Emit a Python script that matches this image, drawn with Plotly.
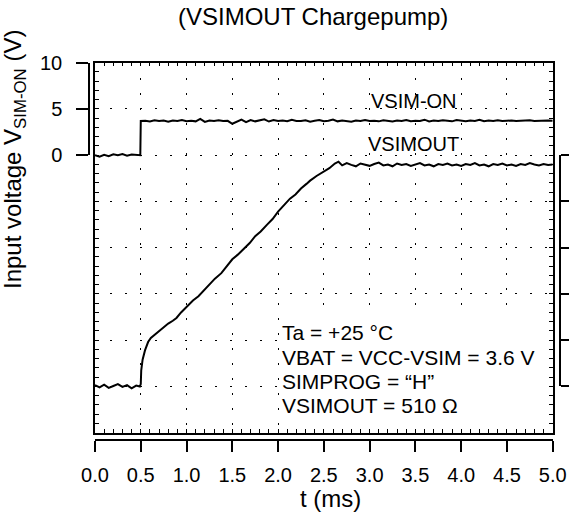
import plotly.graph_objects as go

W, H = 569, 514
FONT = "Arial, 'Liberation Sans', sans-serif"

# ---------------- data ----------------
t_on = [0.00, 0.05, 0.10, 0.15, 0.20, 0.25, 0.30, 0.35, 0.40, 0.45, 0.495, 0.50,
        0.55, 0.60, 0.65, 0.70, 0.75, 0.80, 0.85, 0.90, 0.95, 1.00,
        1.05, 1.10, 1.15, 1.20, 1.25, 1.30, 1.35, 1.40, 1.45, 1.50,
        1.55, 1.60, 1.65, 1.70, 1.75, 1.80, 1.85, 1.90, 1.95, 2.00,
        2.05, 2.10, 2.15, 2.20, 2.25, 2.30, 2.35, 2.40, 2.45, 2.50,
        2.55, 2.60, 2.65, 2.70, 2.75, 2.80, 2.85, 2.90, 2.95, 3.00,
        3.05, 3.10, 3.15, 3.20, 3.25, 3.30, 3.35, 3.40, 3.45, 3.50,
        3.55, 3.60, 3.65, 3.70, 3.75, 3.80, 3.85, 3.90, 3.95, 4.00,
        4.05, 4.10, 4.15, 4.20, 4.25, 4.30, 4.35, 4.40, 4.45, 4.50,
        4.55, 4.60, 4.65, 4.70, 4.75, 4.80, 4.85, 4.90, 4.95, 5.00]
v_on = [0.00, -0.15, 0.05, -0.10, 0.10, 0.00, 0.12, -0.05, 0.08, 0.02, 0.00, 3.70,
        3.72, 3.65, 3.78, 3.70, 3.74, 3.62, 3.76, 3.71, 3.80, 3.68,
        3.73, 3.66, 3.92, 3.60, 3.75, 3.70, 3.78, 3.69, 3.72, 3.40,
        3.62, 3.85, 3.58, 3.80, 3.66, 3.75, 3.88, 3.64, 3.79, 3.70,
        3.74, 3.67, 3.82, 3.71, 3.69, 3.77, 3.62, 3.73, 3.80, 3.68,
        3.72, 3.86, 3.66, 3.74, 3.70, 3.63, 3.76, 3.71, 3.81, 3.69,
        3.73, 3.66, 3.78, 3.72, 3.64, 3.75, 3.70, 3.79, 3.67, 3.73,
        3.71, 3.84, 3.65, 3.74, 3.69, 3.77, 3.71, 3.66, 3.80, 3.72,
        3.68, 3.75, 3.70, 3.83, 3.67, 3.74, 3.71, 3.78, 3.69, 3.72,
        3.76, 3.70, 3.73, 3.68, 3.77, 3.71, 3.74, 3.70, 3.75, 3.72]

t_out = [0.00, 0.05, 0.10, 0.15, 0.20, 0.25, 0.30, 0.35, 0.40, 0.45, 0.49,
         0.50, 0.505, 0.52, 0.546, 0.58, 0.61, 0.64, 0.68, 0.71, 0.75, 0.80,
         0.85, 0.89, 0.94, 1.00, 1.07, 1.13, 1.19, 1.25, 1.31, 1.38, 1.44,
         1.50, 1.56, 1.63, 1.69, 1.75, 1.81, 1.88, 1.94, 2.00, 2.06, 2.13,
         2.19, 2.25, 2.31, 2.35, 2.42, 2.50, 2.56, 2.62, 2.66,
         2.70, 2.75, 2.80, 2.85, 2.90, 2.95, 3.00, 3.05, 3.10, 3.15, 3.20,
         3.25, 3.30, 3.35, 3.40, 3.45, 3.50, 3.55, 3.60, 3.65, 3.70, 3.75,
         3.80, 3.85, 3.90, 3.95, 4.00, 4.05, 4.10, 4.15, 4.20, 4.25, 4.30,
         4.35, 4.40, 4.45, 4.50, 4.55, 4.60, 4.65, 4.70, 4.75, 4.80, 4.85,
         4.90, 4.95, 5.00]
v_out = [0.03, -0.02, 0.04, -0.03, 0.01, 0.05, -0.01, 0.03, -0.04, 0.02, 0.00,
         0.05, 0.35, 0.58, 0.78, 0.96, 1.05, 1.10, 1.16, 1.20, 1.27, 1.36,
         1.42, 1.48, 1.60, 1.72, 1.86, 1.95, 2.08, 2.20, 2.33, 2.45, 2.60,
         2.75, 2.85, 2.98, 3.10, 3.25, 3.35, 3.50, 3.62, 3.78, 3.90, 4.06,
         4.15, 4.28, 4.38, 4.45, 4.55, 4.65, 4.72, 4.82, 4.86,
         4.78, 4.83, 4.79, 4.76, 4.82, 4.80, 4.77, 4.81, 4.84, 4.78, 4.80,
         4.76, 4.82, 4.79, 4.81, 4.77, 4.80, 4.83, 4.78, 4.80, 4.76, 4.81,
         4.79, 4.82, 4.78, 4.80, 4.77, 4.81, 4.79, 4.83, 4.78, 4.80, 4.76,
         4.81, 4.79, 4.82, 4.78, 4.80, 4.77, 4.81, 4.79, 4.83, 4.80, 4.78,
         4.81, 4.79, 4.80]

x_tick_vals = [0.0, 0.5, 1.0, 1.5, 2.0, 2.5, 3.0, 3.5, 4.0, 4.5, 5.0]
x_tick_text = ["0.0", "0.5", "1.0", "1.5", "2.0", "2.5", "3.0", "3.5", "4.0", "4.5", "5.0"]
left_tick_vals = [0, 5, 10]
right_tick_vals = [0, 1, 2, 3, 4, 5]
conditions = ["Ta = +25 \u00b0C", "VBAT = VCC-VSIM = 3.6 V",
              "SIMPROG = \u201cH\u201d", "VSIMOUT = 510 \u03a9"]

# ---------------- geometry (pixels) ----------------
L, R, T, B = 95.0, 552.7, 62.7, 432.7
def fx(p):
    return p / W
def fy(p):
    return 1 - p / H

Y0_PX = 155.2      # 0 V grid line of left scale
YR0_PX = 386.45    # 0 grid line of right scale

fig = go.Figure()
fig.add_trace(go.Scatter(x=t_on, y=v_on, mode="lines", xaxis="x", yaxis="y",
                         line=dict(color="black", width=2), showlegend=False, hoverinfo="skip"))
fig.add_trace(go.Scatter(x=t_out, y=v_out, mode="lines", xaxis="x", yaxis="y2",
                         line=dict(color="black", width=2), showlegend=False, hoverinfo="skip"))
# carriers for the detached axes
fig.add_trace(go.Scatter(x=[None], y=[None], xaxis="x2", yaxis="y3", showlegend=False, hoverinfo="skip"))
fig.add_trace(go.Scatter(x=[None], y=[None], xaxis="x2", yaxis="y4", showlegend=False, hoverinfo="skip"))

grid = dict(showgrid=True, gridcolor="black", gridwidth=1, griddash="2px,13px")

fig.update_layout(
    width=W, height=H,
    margin=dict(l=0, r=0, t=0, b=0, autoexpand=False),
    paper_bgcolor="white", plot_bgcolor="rgba(0,0,0,0)",
    font=dict(family=FONT, size=20, color="black"),
    showlegend=False,
    xaxis=dict(domain=[fx(L), fx(R)], range=[0, 5], anchor="y", automargin=False,
               dtick=0.5, tick0=0, ticks="inside", ticklen=4, tickcolor="black",
               showticklabels=False, showline=True, linecolor="black", linewidth=1.5,
               mirror="ticks", zeroline=False,
               minor=dict(dtick=0.1, ticks="inside", ticklen=4, tickcolor="black", showgrid=False),
               **grid),
    yaxis=dict(domain=[fy(B), fy(T)], range=[-30, 10], anchor="x", automargin=False,
               dtick=5, tick0=0, ticks="inside", ticklen=4, tickcolor="black",
               showticklabels=False, showline=True, linecolor="black", linewidth=1.5,
               mirror="ticks", zeroline=False,
               minor=dict(dtick=1, ticks="inside", ticklen=4, tickcolor="black", showgrid=False),
               **grid),
    yaxis2=dict(overlaying="y", range=[-1, 7], visible=False, anchor="x"),
    xaxis2=dict(domain=[fx(L), fx(R)], range=[0, 5], anchor="free", position=fy(440),
                automargin=False,
                tickvals=x_tick_vals, ticktext=x_tick_text, ticks="outside", ticklen=11,
                tickwidth=1.5, tickcolor="black", showline=True, linecolor="black", linewidth=1.5,
                showgrid=False, zeroline=False, tickfont=dict(size=20), ticklabelstandoff=6),
    yaxis3=dict(domain=[fy(Y0_PX), fy(T)], range=[0, 10], anchor="free", position=fx(89),
                automargin=False, autoshift=False,
                side="left", tickvals=left_tick_vals, ticks="outside", ticklen=12, tickwidth=1.5,
                tickcolor="black", showline=True, linecolor="black", linewidth=1.5,
                showgrid=False, zeroline=False, tickfont=dict(size=20), ticklabelstandoff=10),
    yaxis4=dict(domain=[fy(YR0_PX), fy(Y0_PX)], range=[0, 5], anchor="free", position=fx(560),
                automargin=False, autoshift=False,
                side="right", tickvals=right_tick_vals, ticks="outside", ticklen=12, tickwidth=1.5,
                tickcolor="black", showline=True, linecolor="black", linewidth=1.5,
                showgrid=False, zeroline=False, showticklabels=False),
)

# white panel behind the condition text (hides the grid there)
fig.add_shape(type="rect", xref="paper", yref="paper",
              x0=fx(281), x1=fx(548), y0=fy(428), y1=fy(318),
              fillcolor="white", line=dict(width=0), layer="above")

ann = []
ann.append(dict(text="(VSIMOUT Chargepump)", xref="paper", yref="paper", x=fx(313), y=fy(17),
                xanchor="center", yanchor="middle", showarrow=False, font=dict(size=24)))
ann.append(dict(text="Input voltage V<sub>SIM-ON</sub> (V)", xref="paper", yref="paper",
                x=fx(14), y=fy(160), xanchor="center", yanchor="middle", textangle=-90,
                showarrow=False, font=dict(size=24)))
ann.append(dict(text="t (ms)", xref="paper", yref="paper", x=fx(330), y=fy(498),
                xanchor="center", yanchor="middle", showarrow=False, font=dict(size=24)))
ann.append(dict(text="VSIM-ON", xref="paper", yref="paper", x=fx(414), y=fy(101),
                xanchor="center", yanchor="middle", showarrow=False, font=dict(size=20)))
ann.append(dict(text="VSIMOUT", xref="paper", yref="paper", x=fx(413), y=fy(144),
                xanchor="center", yanchor="middle", showarrow=False, font=dict(size=20)))
for i, line in enumerate(conditions):
    ann.append(dict(text=line, xref="paper", yref="paper", x=fx(280), y=fy([332, 357, 381, 405][i]),
                    xanchor="left", yanchor="middle", showarrow=False, font=dict(size=21)))
fig.update_layout(annotations=ann)

fig.write_html("out.html", config={"displayModeBar": False},
               post_script="document.body.style.margin='0';document.body.style.padding='0';")
